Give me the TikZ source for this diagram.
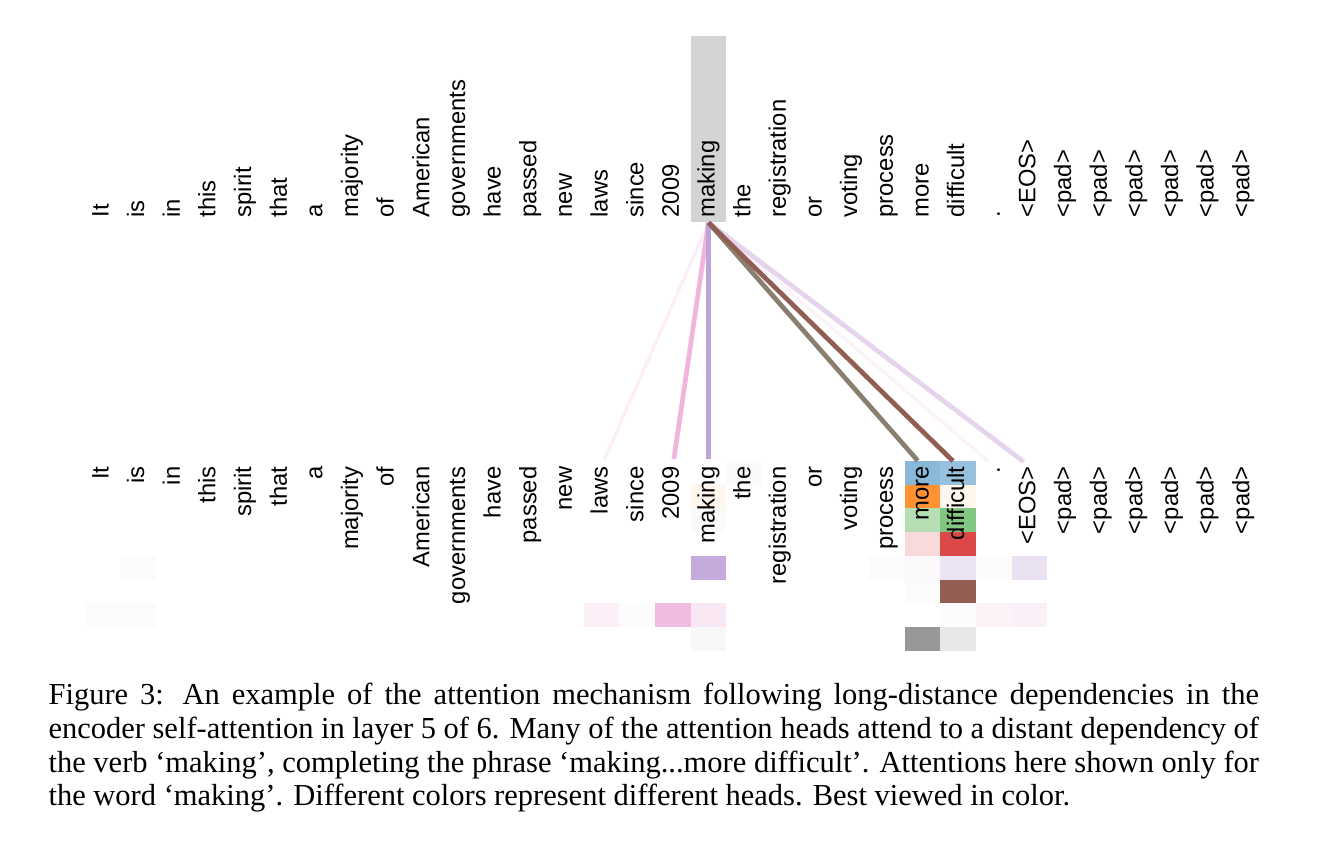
\documentclass[tikz,border=0pt]{standalone}
\usepackage{fontspec}
\setmainfont{Liberation Serif}
\setsansfont{Liberation Sans}
\usepackage{xcolor}
\usepackage{tikz}
\usetikzlibrary{positioning,calc}
\definecolor{headblue}{RGB}{31, 119, 180}
\definecolor{headorange}{RGB}{255, 127, 14}
\definecolor{headgreen}{RGB}{44, 160, 44}
\definecolor{headred}{RGB}{214, 39, 40}
\definecolor{headpurple}{RGB}{148, 103, 189}
\definecolor{headbrown}{RGB}{140, 86, 75}
\definecolor{headpink}{RGB}{227, 119, 194}
\definecolor{headgray}{RGB}{127, 127, 127}
\definecolor{mixline}{RGB}{138, 126, 110}
\definecolor{eosline}{RGB}{230, 212, 236}
\definecolor{focusgray}{RGB}{212, 212, 212}

\begin{document}
\begin{tikzpicture}[
    x=0.328pt, y=-0.328pt,
    token/.style={rotate=90, inner sep=0pt, font=\sffamily\fontsize{7.8}{9}\selectfont, text height=5.9pt, text depth=1.9pt},
    att/.style={line width=1.55pt, shorten >=2.3pt},
    faintatt/.style={line width=1.1pt, shorten >=2.3pt},
]
    \useasboundingbox (0,0) rectangle (1326,852);

    % Highlight of the query word
    \node[fill=focusgray, inner sep=0pt, minimum width=11.5pt, minimum height=61pt] (focus) at (708.5,129) {};

    % Attention weights (column/row/colour)
    \foreach \c/\r/\col in {
        18/0/black!2, 23/0/headblue!52, 24/0/headblue!46,
        17/1/headorange!7, 23/1/headorange!85, 24/1/headorange!7,
        17/2/black!2, 23/2/headgreen!35, 24/2/headgreen!60,
        23/3/headred!17, 24/3/headred!85,
        1/4/black!1.5, 17/4/headpurple!55, 22/4/black!1.5, 23/4/headpurple!4, 24/4/headpurple!18, 25/4/black!1.5, 26/4/headpurple!20,
        23/5/black!1.5, 24/5/headbrown!95,
        0/6/black!1.5, 1/6/black!1.5, 14/6/headpink!12, 15/6/black!1, 16/6/headpink!50, 17/6/headpink!18, 24/6/black!1, 25/6/headpink!9, 26/6/headpink!11,
        17/7/headgray!6, 23/7/headgray!80, 24/7/headgray!18}
        \fill[\col] ({708.5+(\c-17)*35.65-17.8}, {461+\r*23.75}) rectangle ++(35.65,23.75);

    % Tokens, top (queries) and bottom (keys)
    \foreach \w [count=\i from 0] in {It,is,in,this,spirit,that,a,majority,of,American,governments,have,passed,new,laws,since,2009,making,the,registration,or,voting,process,more,difficult,.,<EOS>,<pad>,<pad>,<pad>,<pad>,<pad>,<pad>} {
        \node[token, anchor=west] (top\i) at ({708.5+(\i-17)*35.65}, 218) {\w};
        \node[token, anchor=east] (bot\i) at ({708.5+(\i-17)*35.65}, 466) {\w};
    }

    % Attention lines from 'making'
    \draw[faintatt, headpink!12] (focus.south) -- (bot14.east);
    \draw[faintatt, headpink!9] (focus.south) -- (bot25.east);
    \draw[att, eosline] (focus.south) -- (bot26.east);
    \draw[att, headpink!55] (focus.south) -- (bot16.east);
    \draw[att, headpurple!60] (focus.south) -- (bot17.east);
    \draw[att, mixline] (focus.south) -- (bot23.east);
    \draw[att, headbrown!95] (focus.south) -- (bot24.east);

    % Caption
    \node[anchor=base west, inner sep=0pt, text width=397pt, align=justify, font=\fontsize{10}{11}\selectfont] (caption) at (48,705) {
        Figure 3: An example of the attention mechanism following long-distance dependencies in the\linebreak
        encoder self-attention in layer 5 of 6. Many of the attention heads attend to a distant dependency of\linebreak
        the verb `making', completing the phrase `making...more difficult'. Attentions here shown only for\linebreak
        the word `making'. Different colors represent different heads. Best viewed in color.
    };
\end{tikzpicture}
\end{document}
